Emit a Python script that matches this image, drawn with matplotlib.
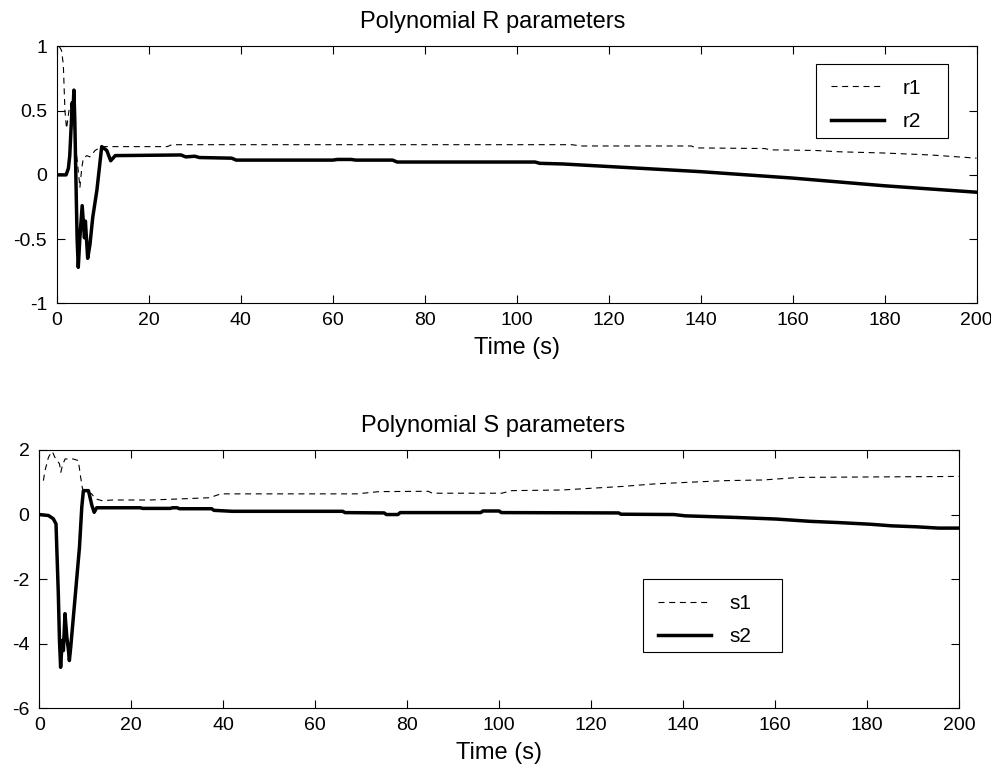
import numpy as np
import matplotlib
matplotlib.use('Agg')
import matplotlib.pyplot as plt
from matplotlib.patches import Rectangle
from matplotlib.ticker import FuncFormatter

##################
# Data
##################

# Polynomial R parameters
r1_t = [0.5, 1.0, 1.4, 1.75, 2.1, 2.7, 3.0, 3.6, 4.3, 4.8, 5.0, 5.4, 5.75, 6.5, 7.2, 8.3, 9.75,
        12, 24, 25, 112, 114, 138, 139, 154, 155, 165, 170, 180, 190, 200]
r1_v = [1.0, 0.97, 0.86, 0.5, 0.36, 0.52, 0.55, 0.43, 0.15, -0.02, -0.1, 0.05, 0.13, 0.15, 0.14, 0.19, 0.22,
        0.22, 0.22, 0.235, 0.235, 0.225, 0.225, 0.21, 0.205, 0.195, 0.19, 0.18, 0.17, 0.155, 0.13]

r2_t = [0, 2.0, 2.5, 2.8, 3.2, 3.3, 3.5, 3.7, 3.9, 4.15, 4.4, 4.65, 5.0, 5.5, 6.0, 6.2, 6.7, 7.2, 7.8,
        8.7, 9.75, 10.85, 11.7, 12.7, 27, 28, 30, 31, 38, 39, 60, 61, 64, 65, 73, 74, 104, 105,
        110, 120, 130, 140, 150, 160, 170, 180, 190, 200]
r2_v = [0, 0.0, 0.05, 0.15, 0.45, 0.56, 0.5, 0.66, 0.42, -0.05, -0.5, -0.72, -0.49, -0.24, -0.49, -0.36, -0.65, -0.54, -0.33,
        -0.12, 0.22, 0.19, 0.11, 0.15, 0.155, 0.14, 0.145, 0.135, 0.13, 0.115, 0.115, 0.12, 0.12, 0.115, 0.115, 0.1, 0.1, 0.09,
        0.085, 0.065, 0.045, 0.025, 0.0, -0.025, -0.055, -0.085, -0.11, -0.135]

# Polynomial S parameters
s1_t = [0.9, 1.25, 2.0, 2.7, 3.0, 3.4, 3.9, 4.4, 4.7, 5.0, 5.6, 7.4, 8.5, 9.0, 9.4, 10.0, 11.4, 12.2, 13.6,
        16, 24, 30, 37, 39.5, 69, 74, 84.6, 85.5, 100.6, 102.8, 113.7, 126.8, 134, 141.4, 149.3, 157.4, 165.4, 200]
s1_v = [1.05, 1.36, 1.77, 1.95, 1.9, 1.77, 1.67, 1.57, 1.31, 1.5, 1.72, 1.72, 1.67, 1.16, 0.8, 0.7, 0.64, 0.49, 0.43,
        0.45, 0.45, 0.48, 0.52, 0.64, 0.64, 0.71, 0.72, 0.66, 0.66, 0.74, 0.76, 0.87, 0.95, 1.0, 1.05, 1.07, 1.15, 1.18]

s2_t = [0, 2.0, 3.05, 3.65, 3.8, 4.15, 4.4, 4.65, 5.0, 5.25, 5.6, 6.0, 6.35, 6.55, 6.85, 7.8, 8.75, 9.25, 9.6,
        10.7, 11.45, 11.95, 12.5, 22, 22.5, 28.5, 29, 30, 30.5, 37.5, 38, 42, 66, 66.5, 75, 75.5, 78, 78.5,
        96, 96.5, 100, 100.5, 126, 126.5, 138, 140.5, 151.5, 160.3, 167.6, 174, 180.7, 185.4, 190.8, 195.6, 200]
s2_v = [0, -0.03, -0.13, -0.29, -0.96, -2.46, -3.9, -4.73, -3.9, -4.21, -3.07, -3.8, -4.2, -4.52, -4.1, -2.56, -1.01, 0.23, 0.74,
        0.74, 0.28, 0.07, 0.21, 0.21, 0.19, 0.19, 0.21, 0.21, 0.18, 0.18, 0.13, 0.1, 0.1, 0.06, 0.05, 0.0, 0.0, 0.06,
        0.06, 0.11, 0.11, 0.06, 0.05, 0.01, 0.0, -0.04, -0.09, -0.14, -0.21, -0.25, -0.3, -0.35, -0.38, -0.42, -0.42]

r_yticks = [-1, -0.5, 0, 0.5, 1]
s_yticks = [-6, -4, -2, 0, 2]
x_ticks = list(range(0, 201, 20))

##################
# Style
##################

plt.rcParams['font.family'] = ['Liberation Sans', 'DejaVu Sans']
plt.rcParams['axes.unicode_minus'] = False

thick_lw = 2.5
thin_lw = 0.8
thin_dash = (5.4, 4.2)

fig = plt.figure(figsize=(9.91, 7.69), dpi=100, facecolor='white')


def fmt(v, pos):
    return ('%g' % v)


def style_axes(ax, yticks, ylim):
    ax.set_xlim(0, 200)
    ax.set_ylim(*ylim)
    ax.set_xticks(x_ticks)
    ax.set_yticks(yticks)
    ax.yaxis.set_major_formatter(FuncFormatter(fmt))
    ax.tick_params(direction='in', length=5.8, width=0.8, top=True, right=True, labelsize=14)
    ax.tick_params(axis='x', pad=6)
    ax.tick_params(axis='y', pad=7)
    for sp in ax.spines.values():
        sp.set_linewidth(0.8)
    ax.set_xlabel('Time (s)', fontsize=17, labelpad=6)


def boxed_legend(ax, box):
    # box = (x0, y0, x1, y1) in axes fractions; MATLAB-style legend frame
    x0, y0, x1, y1 = box
    ax.add_patch(Rectangle((x0, y0), x1 - x0, y1 - y0, transform=ax.transAxes,
                           facecolor='white', edgecolor='black', lw=0.8, zorder=4))
    leg = ax.legend(loc='upper left', bbox_to_anchor=(x0, y1), fontsize=15, frameon=False,
                    handlelength=2.55, handletextpad=0.9, borderpad=0.7, borderaxespad=0,
                    labelspacing=0.7)
    leg.set_zorder(5)


##################
# R parameters
##################

ax1 = fig.add_axes([0.0574, 0.6056, 0.928, 0.334])
ax1.plot(r1_t, r1_v, color='black', lw=thin_lw, dashes=thin_dash, label='r1')
ax1.plot(r2_t, r2_v, color='black', lw=thick_lw, label='r2')
style_axes(ax1, r_yticks, (-1, 1))
ax1.set_title('Polynomial R parameters', fontsize=17, x=0.474, pad=13)
boxed_legend(ax1, (0.8254, 0.6437, 0.9689, 0.9319))

##################
# S parameters
##################

ax2 = fig.add_axes([0.0396, 0.0789, 0.928, 0.336])
ax2.plot(s1_t, s1_v, color='black', lw=thin_lw, dashes=thin_dash, label='s1')
ax2.plot(s2_t, s2_v, color='black', lw=thick_lw, label='s2')
style_axes(ax2, s_yticks, (-6, 2))
ax2.set_title('Polynomial S parameters', fontsize=17, x=0.493, pad=13)
boxed_legend(ax2, (0.6566, 0.2191, 0.8077, 0.4994))

##################
# Export
##################

fig.savefig('out.png', dpi=100, facecolor='white')
